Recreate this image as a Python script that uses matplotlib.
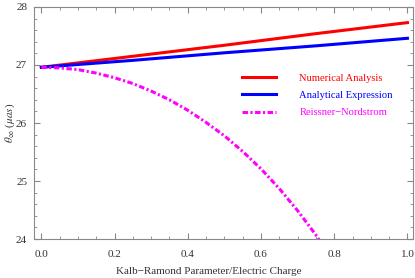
import matplotlib
matplotlib.use('Agg')
import matplotlib.pyplot as plt
from matplotlib.ticker import MultipleLocator

plt.rcParams['font.family'] = 'Liberation Serif'
plt.rcParams['mathtext.fontset'] = 'stix'
plt.rcParams['font.size'] = 8

# values
x_lin = [0.0, 0.25, 0.5, 0.75, 1.0]
numerical = [26.96, 27.15, 27.34, 27.54, 27.73]
analytical = [26.96, 27.08, 27.21, 27.33, 27.46]

x_rn = [0.0, 0.05, 0.1, 0.15, 0.2, 0.25, 0.3, 0.35, 0.4, 0.45, 0.5,
        0.55, 0.6, 0.65, 0.7, 0.75, 0.8]
reissner = [26.96, 26.95, 26.92, 26.86, 26.78, 26.68, 26.55, 26.40, 26.22,
            26.01, 25.78, 25.51, 25.21, 24.87, 24.49, 24.07, 23.59]

fig = plt.figure(figsize=(4.15, 2.78), dpi=100)
ax = fig.add_axes([0.082, 0.140, 0.913, 0.835])

ax.plot(x_lin, numerical, color='#ff0000', lw=2.2, label='Numerical Analysis')
ax.plot(x_lin, analytical, color='#0000ff', lw=2.2, label='Analytical Expression')
ax.plot(x_rn, reissner, color='#ff00ff', lw=2.2, ls=(0, (1.8, 0.8, 0.7, 0.8)),
        label='Reissner\u2212Nordstrom')

ax.set_xlim(-0.02, 1.015)
ax.set_ylim(24, 28)
ax.xaxis.set_major_locator(MultipleLocator(0.2))
ax.xaxis.set_minor_locator(MultipleLocator(0.05))
ax.yaxis.set_major_locator(MultipleLocator(1))
ax.yaxis.set_minor_locator(MultipleLocator(0.2))
ax.xaxis.set_major_formatter(plt.FuncFormatter(lambda v, p: f'{v:.1f}'))

for s in ax.spines.values():
    s.set_color('#888888')
    s.set_linewidth(0.8)
ax.tick_params(which='both', direction='in', top=True, right=True,
               color='#888888', labelcolor='#333333', labelsize=8)
ax.tick_params(which='major', length=4)
ax.tick_params(axis='x', which='major', pad=8)
ax.tick_params(axis='y', which='major', pad=5)
ax.tick_params(which='minor', length=2.2)

ax.set_xlabel('Kalb\u2212Ramond Parameter/Electric Charge', fontsize=8,
              color='#333333')
ax.xaxis.set_label_coords(0.46, -0.12)
ax.set_ylabel(r'$\theta_{\infty}$ ($\mu as$)', fontsize=8, color='#333333')
ax.yaxis.set_label_coords(-0.045, 0.5)

leg = ax.legend(loc='upper left', bbox_to_anchor=(0.525, 0.755), frameon=False,
                handlelength=3.2, handletextpad=2.2, labelspacing=0.75,
                fontsize=7.6)
for t, c in zip(leg.get_texts(), ['#ff0000', '#0000ff', '#ff00ff']):
    t.set_color(c)

fig.savefig('out.png', dpi=100)
